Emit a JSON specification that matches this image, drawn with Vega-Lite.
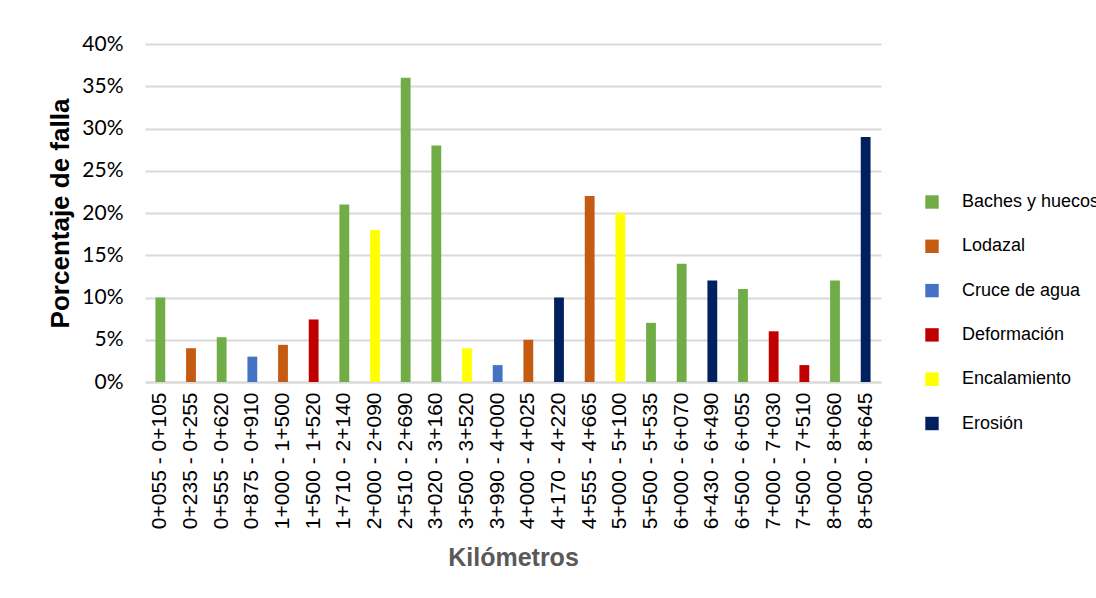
{
  "$schema": "https://vega.github.io/schema/vega-lite/v6.json",
  "width": 736,
  "height": 338,
  "autosize": {"type": "none"},
  "padding": {"left": 145, "top": 44, "right": 215, "bottom": 216},
  "background": "white",
  "data": {
    "values": [
      {"tramo": "0+055 - 0+105", "falla": "Baches y huecos", "porcentaje": 0.10},
      {"tramo": "0+235 - 0+255", "falla": "Lodazal", "porcentaje": 0.04},
      {"tramo": "0+555 - 0+620", "falla": "Baches y huecos", "porcentaje": 0.053},
      {"tramo": "0+875 - 0+910", "falla": "Cruce de agua", "porcentaje": 0.03},
      {"tramo": "1+000 - 1+500", "falla": "Lodazal", "porcentaje": 0.044},
      {"tramo": "1+500 - 1+520", "falla": "Deformación", "porcentaje": 0.074},
      {"tramo": "1+710 - 2+140", "falla": "Baches y huecos", "porcentaje": 0.21},
      {"tramo": "2+000 - 2+090", "falla": "Encalamiento", "porcentaje": 0.18},
      {"tramo": "2+510 - 2+690", "falla": "Baches y huecos", "porcentaje": 0.36},
      {"tramo": "3+020 - 3+160", "falla": "Baches y huecos", "porcentaje": 0.28},
      {"tramo": "3+500 - 3+520", "falla": "Encalamiento", "porcentaje": 0.04},
      {"tramo": "3+990 - 4+000", "falla": "Cruce de agua", "porcentaje": 0.02},
      {"tramo": "4+000 - 4+025", "falla": "Lodazal", "porcentaje": 0.05},
      {"tramo": "4+170 - 4+220", "falla": "Erosión", "porcentaje": 0.10},
      {"tramo": "4+555 - 4+665", "falla": "Lodazal", "porcentaje": 0.22},
      {"tramo": "5+000 - 5+100", "falla": "Encalamiento", "porcentaje": 0.20},
      {"tramo": "5+500 - 5+535", "falla": "Baches y huecos", "porcentaje": 0.07},
      {"tramo": "6+000 - 6+070", "falla": "Baches y huecos", "porcentaje": 0.14},
      {"tramo": "6+430 - 6+490", "falla": "Erosión", "porcentaje": 0.12},
      {"tramo": "6+500 - 6+055", "falla": "Baches y huecos", "porcentaje": 0.11},
      {"tramo": "7+000 - 7+030", "falla": "Deformación", "porcentaje": 0.06},
      {"tramo": "7+500 - 7+510", "falla": "Deformación", "porcentaje": 0.02},
      {"tramo": "8+000 - 8+060", "falla": "Baches y huecos", "porcentaje": 0.12},
      {"tramo": "8+500 - 8+645", "falla": "Erosión", "porcentaje": 0.29}
    ]
  },
  "mark": {"type": "bar"},
  "encoding": {
    "x": {
      "field": "tramo",
      "type": "nominal",
      "sort": null,
      "scale": {"paddingInner": 0.68, "paddingOuter": 0.34},
      "axis": {
        "title": "Kilómetros",
        "titleFont": "Liberation Sans",
        "titleFontSize": 25,
        "titleFontWeight": "bold",
        "titleColor": "#595959",
        "titlePadding": 17,
        "labelAngle": -90,
        "labelFont": "Liberation Sans",
        "labelFontSize": 21,
        "labelColor": "#000000",
        "labelPadding": 10,
        "labelLimit": 300,
        "ticks": false,
        "domain": true,
        "domainColor": "#d9d9d9",
        "domainWidth": 2
      }
    },
    "y": {
      "field": "porcentaje",
      "type": "quantitative",
      "scale": {"domain": [0, 0.4]},
      "axis": {
        "title": "Porcentaje de falla",
        "titleFont": "Liberation Sans",
        "titleFontSize": 26,
        "titleFontWeight": "bold",
        "titleColor": "#000000",
        "titlePadding": 8,
        "values": [0, 0.05, 0.1, 0.15, 0.2, 0.25, 0.3, 0.35, 0.4],
        "format": ".0%",
        "labelFont": "Lato",
        "labelFontSize": 21,
        "labelColor": "#000000",
        "labelPadding": 22,
        "ticks": false,
        "domain": false,
        "gridColor": "#d9d9d9",
        "gridWidth": 2
      }
    },
    "color": {
      "field": "falla",
      "type": "nominal",
      "scale": {
        "domain": ["Baches y huecos", "Lodazal", "Cruce de agua", "Deformación", "Encalamiento", "Erosión"],
        "range": ["#70AD47", "#C55A11", "#4472C4", "#C00000", "#FFFF00", "#002060"]
      },
      "legend": {
        "title": null,
        "orient": "none",
        "legendX": 778,
        "legendY": 149,
        "symbolType": "square",
        "symbolSize": 180,
        "symbolStrokeWidth": 0,
        "labelFont": "Liberation Sans",
        "labelFontSize": 18,
        "labelColor": "#000000",
        "labelOffset": 21,
        "labelLimit": 300,
        "rowPadding": 26.3
      }
    }
  },
  "config": {
    "view": {"stroke": null}
  }
}
